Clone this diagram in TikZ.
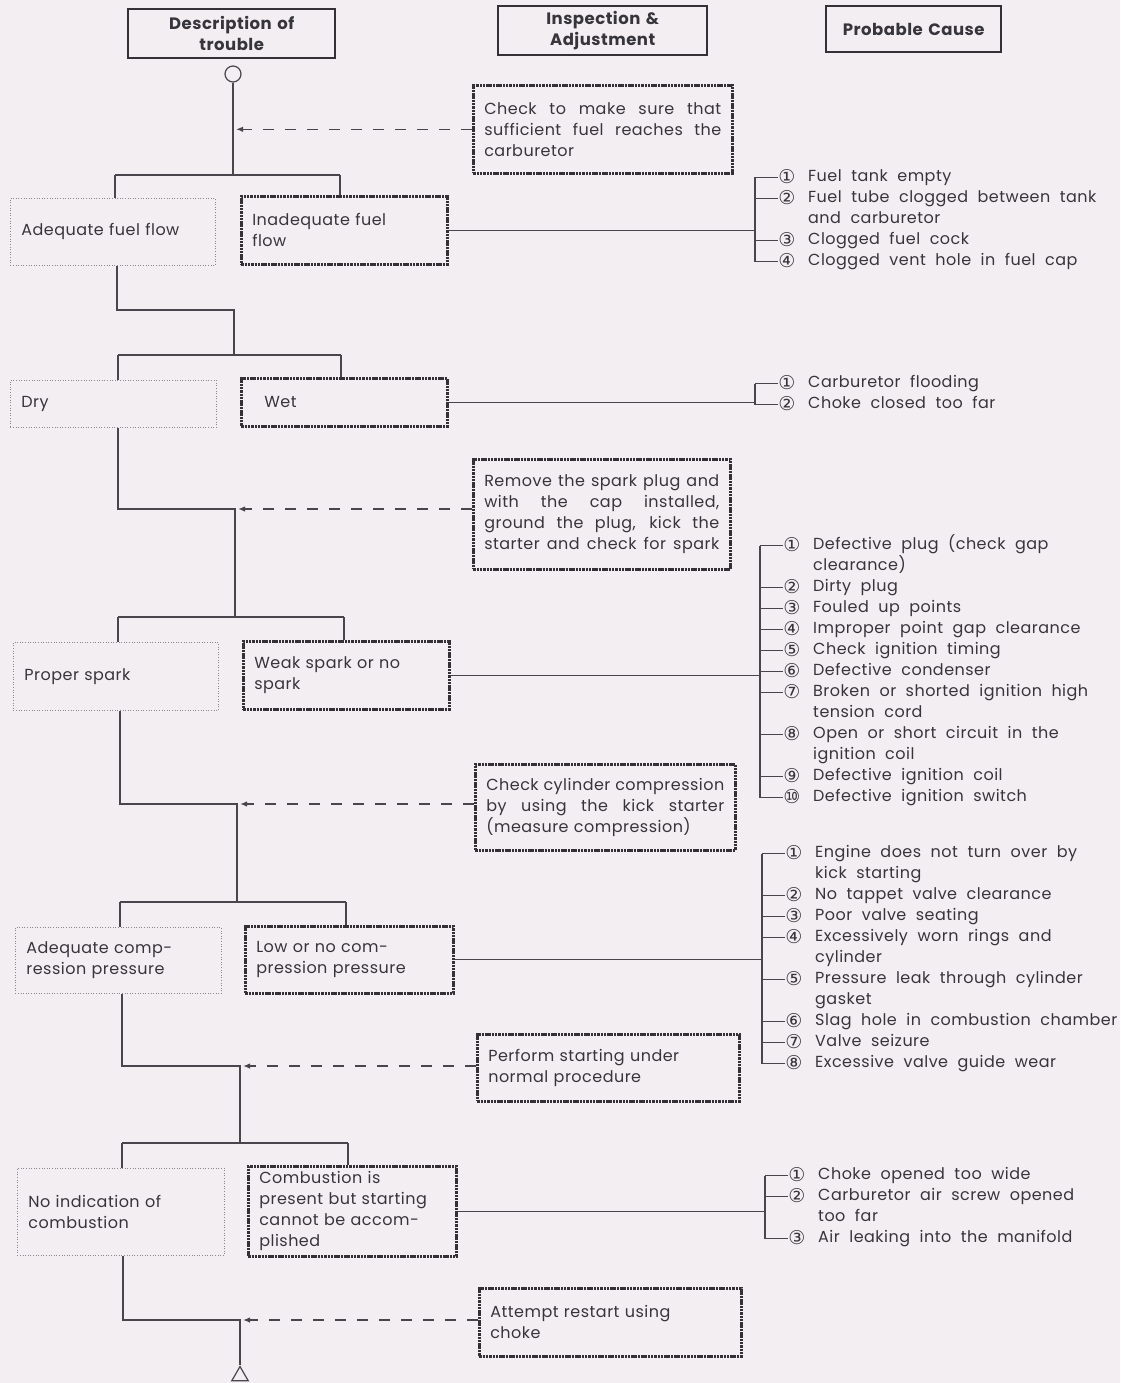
\documentclass[tikz,border=0pt]{standalone}
\usepackage{fontspec}
\setmainfont{Poppins}[WordSpace=2.0,LetterSpace=3]
\newfontfamily\symf{DejaVu Sans}
\usetikzlibrary{arrows.meta,shapes.geometric}
\definecolor{bgc}{RGB}{243,238,241}
\definecolor{linec}{RGB}{72,70,76}
\definecolor{boxc}{RGB}{52,48,54}
\definecolor{dotc}{RGB}{140,135,142}
\definecolor{txtc}{RGB}{55,53,60}
\newcommand\fs{\fontsize{16pt}{21pt}\selectfont}
\newcommand\J[1]{\leavevmode\hbox to \tw pt{\spaceskip=0.25em plus 1fil\relax #1}}
\newcommand\mybox[7]{%
 \pgfmathsetmacro\bw{#5-#3}\pgfmathsetmacro\bh{#6-#4}\pgfmathsetmacro\tw{#5-#3-22}%
 \node[#1, anchor=north west, minimum width=\bw pt, minimum height=\bh pt,
   text width=\tw pt, inner xsep=11pt, inner ysep=0pt] (#2) at (#3,#4) {#7};}
\newcommand\cz[5]{%
 \coordinate (#1t) at (#2,{#3-1.5});
 \node[num] (#1n) at ({#2+32},{#3+4.5}) {#4};
 \node[ctext] (#1x) at ({#2+53},#3) {#5};
 \draw[ln] (#1t) -- (#1t -| #1n.west);}
\newcommand\czc[4]{\node[ctext] (#1) at ({#2+53},#3) {#4};}
\tikzset{
 ln/.style={draw=linec, line width=1.1pt},
 hdr/.style={draw=boxc, line width=2.4pt, align=center, text=txtc,
   font=\fontsize{16.5pt}{21pt}\selectfont\bfseries},
 chk/.style={draw=boxc, line width=2.6pt, dash pattern=on 2.5pt off 0.8pt,
   align=left, text=txtc, font=\fs},
 bad/.style={chk},
 good/.style={draw=dotc, line width=0.8pt, dash pattern=on 1pt off 1.6pt,
   align=left, text=txtc, font=\fs},
 darr/.style={draw=linec, line width=1.5pt, dash pattern=on 11pt off 11pt,
   shorten >=3pt, -{Latex[length=7pt,width=5.5pt]}},
 num/.style={font=\symf\fontsize{19pt}{19pt}\selectfont, inner sep=0pt, anchor=base, text=txtc},
 ctext/.style={font=\fs, anchor=mid west, inner sep=0pt, text=txtc},
}
\begin{document}
\begin{tikzpicture}[x=1pt,y=-1pt]
\fill[bgc] (0,0) rectangle (1120,1383);
\useasboundingbox (0,0) rectangle (1120,1383);

% headers
\mybox{hdr}{h1}{127}{8}{334}{57}{Description of\\trouble}
\mybox{hdr}{h2}{497}{5}{706}{54}{Inspection \&\\Adjustment}
\mybox{hdr}{h3}{825}{5}{1000}{51}{Probable Cause}

% inspection boxes
\mybox{chk}{k1}{472}{84}{731}{172}{\J{Check to make sure that}\\\J{sufficient fuel reaches the}\\carburetor}
\mybox{chk}{k2}{472}{458}{729}{568}{\J{Remove the spark plug and}\\\J{with the cap installed,}\\\J{ground the plug, kick the}\\\J{starter and check for spark}}
\mybox{chk}{k3}{474}{763}{734}{849}{\J{Check cylinder compression}\\\J{by using the kick starter}\\(measure compression)}
\mybox{chk}{k4}{476}{1033}{738}{1100}{Perform starting under\\normal procedure}
\mybox{chk}{k5}{478}{1287}{740}{1355}{Attempt restart using\\choke}

% trouble boxes
\mybox{good}{a1}{10}{198}{215}{265}{Adequate fuel flow}
\mybox{bad}{i1}{240}{195}{446}{263}{Inadequate fuel\\flow}
\mybox{good}{a2}{10}{380}{216}{427}{Dry}
\mybox{bad}{i2}{240}{377}{446}{425}{\hspace*{12pt}Wet}
\mybox{good}{a3}{13}{642}{218}{710}{Proper spark}
\mybox{bad}{i3}{242}{640}{448}{708}{Weak spark or no\\spark}
\mybox{good}{a4}{15}{927}{221}{993}{Adequate comp-\\ression pressure}
\mybox{bad}{i4}{244}{925}{452}{992}{Low or no com-\\pression pressure}
\mybox{good}{a5}{17}{1168}{224}{1255}{No indication of\\combustion}
\mybox{bad}{i5}{247}{1165}{455}{1255}{Combustion is\\present but starting\\cannot be accom-\\plished}

% start / end markers
\node[circle, draw=linec, line width=1.2pt, minimum size=16pt, inner sep=0pt] (start) at (233,74) {};
\node[regular polygon, regular polygon sides=3, draw=linec, line width=1.2pt,
  minimum size=19pt, inner sep=0pt] (stop) at (240,1376) {};

% block 1
\coordinate (j1) at (233,175);
\coordinate (L1) at (115,175); \coordinate (R1) at (340,175);
\draw[ln] (start) -- (j1);
\draw[ln] (L1) -- (R1);
\draw[ln] (L1) -- (a1.north -| L1);
\draw[ln] (R1) -- (i1.north -| R1);
\draw[darr] (k1.west) -- (k1.west -| start);

% block 2
\coordinate (r2) at (117,310); \coordinate (s2) at (234,310); \coordinate (j2) at (234,355);
\coordinate (L2) at (118,355); \coordinate (R2) at (341,355);
\draw[ln] (a1.south -| r2) -- (r2) -- (s2) -- (j2);
\draw[ln] (L2) -- (R2);
\draw[ln] (L2) -- (a2.north -| L2);
\draw[ln] (R2) -- (i2.north -| R2);

% block 3
\coordinate (r3) at (118,509); \coordinate (s3) at (235,509); \coordinate (j3) at (235,617);
\coordinate (L3) at (118,617); \coordinate (R3) at (344,617);
\draw[ln] (a2.south -| r3) -- (r3) -- (s3) -- (j3);
\draw[darr] (k2.west |- s3) -- (s3);
\draw[ln] (L3) -- (R3);
\draw[ln] (L3) -- (a3.north -| L3);
\draw[ln] (R3) -- (i3.north -| R3);

% block 4
\coordinate (r4) at (120,804); \coordinate (s4) at (237,804); \coordinate (j4) at (237,902);
\coordinate (L4) at (120,902); \coordinate (R4) at (346,902);
\draw[ln] (a3.south -| r4) -- (r4) -- (s4) -- (j4);
\draw[darr] (k3.west |- s4) -- (s4);
\draw[ln] (L4) -- (R4);
\draw[ln] (L4) -- (a4.north -| L4);
\draw[ln] (R4) -- (i4.north -| R4);

% block 5
\coordinate (r5) at (122,1066); \coordinate (s5) at (240,1066); \coordinate (j5) at (240,1143);
\coordinate (L5) at (122,1143); \coordinate (R5) at (348,1143);
\draw[ln] (a4.south -| r5) -- (r5) -- (s5) -- (j5);
\draw[darr] (k4.west |- s5) -- (s5);
\draw[ln] (L5) -- (R5);
\draw[ln] (L5) -- (a5.north -| L5);
\draw[ln] (R5) -- (i5.north -| R5);

% block 6
\coordinate (r6) at (123,1320); \coordinate (s6) at (240,1320);
\draw[ln] (a5.south -| r6) -- (r6) -- (s6) -- (stop.north);
\draw[darr] (k5.west |- s6) -- (s6);

% causes group 1
\cz{ga}{755}{179}{①}{Fuel tank empty}
\cz{gb}{755}{200}{②}{Fuel tube clogged between tank}
\czc{gbc}{755}{221}{and carburetor}
\cz{gc}{755}{242}{③}{Clogged fuel cock}
\cz{gd}{755}{263}{④}{Clogged vent hole in fuel cap}
\draw[ln] (gat) -- (gdt);
\draw[ln] (i1.east) -- (i1.east -| gat);

% group 2
\cz{ha}{755}{385}{①}{Carburetor flooding}
\cz{hb}{755}{406}{②}{Choke closed too far}
\draw[ln] (hat) -- (hbt);
\draw[ln] (i2.east) -- (i2.east -| hat);

% group 3
\cz{pa}{760}{547}{①}{Defective plug (check gap}
\czc{pac}{760}{568}{clearance)}
\cz{pb}{760}{589}{②}{Dirty plug}
\cz{pc}{760}{610}{③}{Fouled up points}
\cz{pd}{760}{631}{④}{Improper point gap clearance}
\cz{pe}{760}{652}{⑤}{Check ignition timing}
\cz{pf}{760}{673}{⑥}{Defective condenser}
\cz{pg}{760}{694}{⑦}{Broken or shorted ignition high}
\czc{pgc}{760}{715}{tension cord}
\cz{ph}{760}{736}{⑧}{Open or short circuit in the}
\czc{phc}{760}{757}{ignition coil}
\cz{pi}{760}{778}{⑨}{Defective ignition coil}
\cz{pj}{760}{799}{⑩}{Defective ignition switch}
\draw[ln] (pat) -- (pjt);
\draw[ln] (i3.east) -- (i3.east -| pat);

% group 4
\cz{qa}{762}{855}{①}{Engine does not turn over by}
\czc{qac}{762}{876}{kick starting}
\cz{qb}{762}{897}{②}{No tappet valve clearance}
\cz{qc}{762}{918}{③}{Poor valve seating}
\cz{qd}{762}{939}{④}{Excessively worn rings and}
\czc{qdc}{762}{960}{cylinder}
\cz{qe}{762}{981}{⑤}{Pressure leak through cylinder}
\czc{qec}{762}{1002}{gasket}
\cz{qf}{762}{1023}{⑥}{Slag hole in combustion chamber}
\cz{qg}{762}{1044}{⑦}{Valve seizure}
\cz{qh}{762}{1065}{⑧}{Excessive valve guide wear}
\draw[ln] (qat) -- (qht);
\draw[ln] (i4.east) -- (i4.east -| qat);

% group 5
\cz{ua}{765}{1177}{①}{Choke opened too wide}
\cz{ub}{765}{1198}{②}{Carburetor air screw opened}
\czc{ubc}{765}{1219}{too far}
\cz{uc}{765}{1240}{③}{Air leaking into the manifold}
\draw[ln] (uat) -- (uct);
\draw[ln] (i5.east) -- (i5.east -| uat);
\end{tikzpicture}
\end{document}
